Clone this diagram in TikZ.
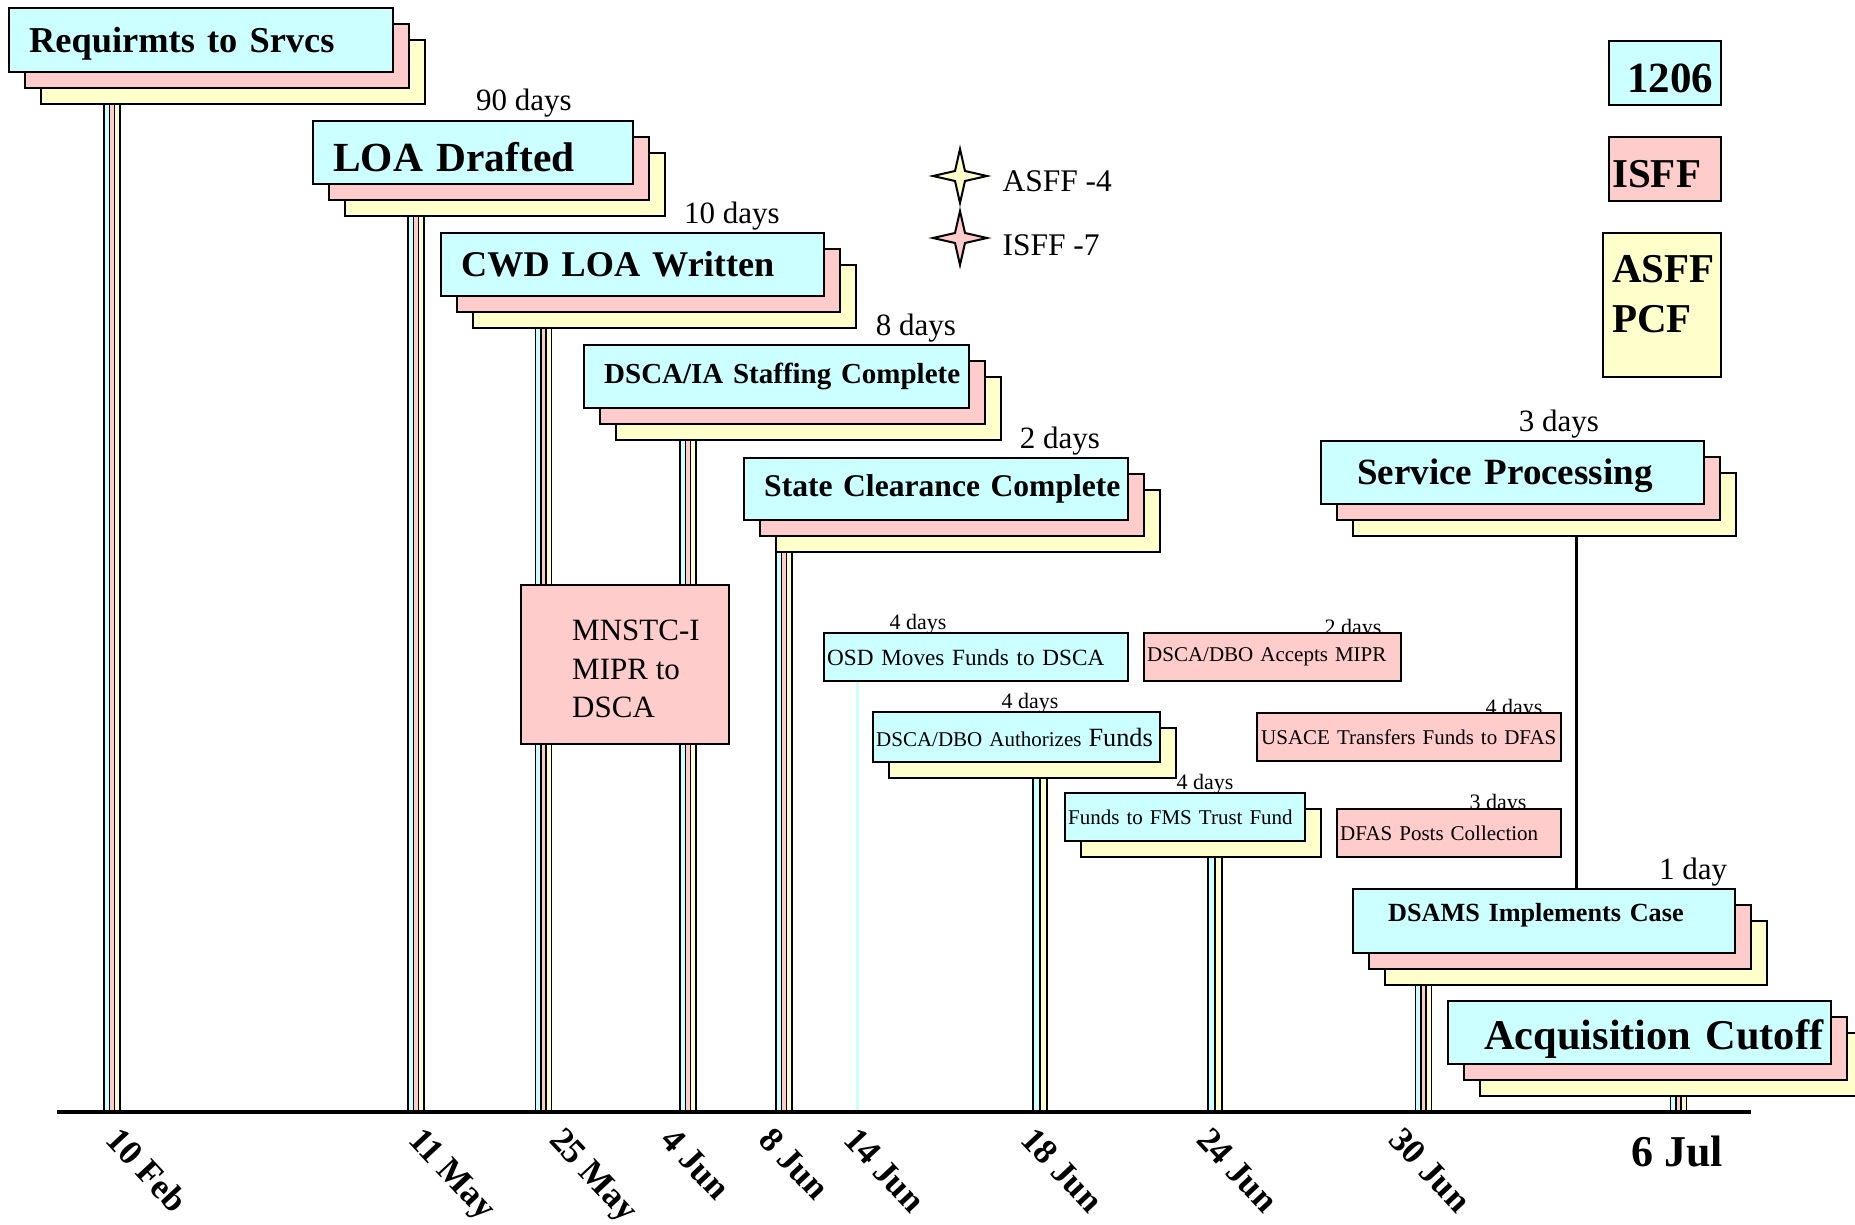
\documentclass[tikz,border=0pt]{standalone}
\usepackage{fontspec}
\setmainfont{Liberation Serif}
\definecolor{boxcyan}{HTML}{CCFFFF}
\definecolor{boxpink}{HTML}{FFCCCC}
\definecolor{boxyellow}{HTML}{FFFFCC}

% three-colour stem and two-colour stem
\newcommand{\tristem}[2]{%
  \draw[line width=17.4] (#1) -- (#2);
  \draw[line width=3.8, boxcyan, transform canvas={xshift=-5.3pt}] (#1) -- (#2);
  \draw[line width=3.8, boxpink] (#1) -- (#2);
  \draw[line width=3.8, boxyellow, transform canvas={xshift=5.3pt}] (#1) -- (#2);}
\newcommand{\duostem}[2]{%
  \draw[line width=15.5] (#1) -- (#2);
  \draw[line width=5.5, boxcyan, transform canvas={xshift=-3.5pt}] (#1) -- (#2);
  \draw[line width=5.5, boxyellow, transform canvas={xshift=3.5pt}] (#1) -- (#2);}
% stacked boxes: name, x, y, width, height, pad, font size, text, raise
\newcommand{\tlstack}[9]{%
  \pgfmathsetmacro{\stackw}{#4-2*#6}%
  \node[tlbox, fill=boxyellow, minimum width=#4, minimum height=#5] (#1-y) at (#2+32,#3+32) {};
  \node[tlbox, fill=boxpink, minimum width=#4, minimum height=#5] (#1-p) at (#2+16,#3+16) {};
  \node[tlbox, fill=boxcyan, minimum width=#4, minimum height=#5, inner xsep=#6,
        text width=\stackw pt, font=\fontsize{#7}{#7}\selectfont\bfseries] (#1) at (#2,#3)
        {\mbox{\raisebox{#9pt}[\height][\depth]{#8}}};}
% cyan box over yellow box: name, x, y, width, height, text
\newcommand{\duostack}[6]{%
  \pgfmathsetmacro{\stackw}{#4-6}%
  \node[tlbox, fill=boxyellow, minimum width=#4, minimum height=#5] (#1-y) at (#2+16,#3+16) {};
  \node[tlbox, fill=boxcyan, smalltxt, minimum width=#4, minimum height=#5, inner xsep=3,
        text width=\stackw pt] (#1) at (#2,#3) {\mbox{#6}};}

\begin{document}
\begin{tikzpicture}[x=1pt,y=-1pt,
    tlbox/.style={draw=black, line width=2.4, anchor=north west, inner ysep=2, align=left},
    bigdays/.style={font=\fontsize{31}{31}\selectfont, anchor=base},
    smalldays/.style={font=\fontsize{22}{22}\selectfont, anchor=base},
    smalltxt/.style={font=\fontsize{21}{22}\selectfont},
    datelbl/.style={font=\fontsize{35}{35}\selectfont\bfseries, rotate=-47, anchor=north west, inner sep=0}]

\fill[white] (0,0) rectangle (1855,1225);
\useasboundingbox (0,0) rectangle (1855,1225);

% tick points on the time axis
\coordinate (t10feb) at (112,1112);
\coordinate (t11may) at (416,1112);
\coordinate (t25may) at (543.5,1112);
\coordinate (t4jun) at (688,1112);
\coordinate (t8jun) at (784,1112);
\coordinate (t14jun) at (857,1112);
\coordinate (t18jun) at (1040,1112);
\coordinate (t24jun) at (1215,1112);
\coordinate (t30jun) at (1423.5,1112);
\coordinate (t6jul) at (1678.5,1112);
\coordinate (axisL) at (57,1112);
\coordinate (axisR) at (1751,1112);
\coordinate (svcdrop) at (1576,0);

% durations
\node[bigdays] (d90) at (524,111) {90 days};
\node[bigdays] (d10) at (732,223) {10 days};
\node[bigdays] (d8) at (916,335) {8 days};
\node[bigdays] (d2) at (1060,448) {2 days};
\node[bigdays] (d3) at (1559,431) {3 days};
\node[bigdays] (d1) at (1693,879) {1 day};
\node[smalldays] (dosd) at (918,629) {4 days};
\node[smalldays] (dacc) at (1353,634.5) {2 days};
\node[smalldays] (dauth) at (1030,708) {4 days};
\node[smalldays] (dfms) at (1205,789) {4 days};
\node[smalldays] (dusace) at (1514,714.5) {4 days};
\node[smalldays] (ddfas) at (1498,809.5) {3 days};

% main steps
\tlstack{req}{8}{7}{384}{64}{20}{36.4}{Requirmts to Srvcs}{-4}
\tlstack{loa}{312}{120}{320}{63}{20}{41.4}{LOA Drafted}{-4}
\tlstack{cwd}{440}{232}{383}{63}{20}{36.2}{CWD LOA Written}{0}
\tlstack{dsca}{583}{344}{385}{63}{20}{29}{DSCA/IA Staffing Complete}{0}
\tlstack{state}{743}{457}{384}{62}{20}{31.6}{State Clearance Complete}{0}
\tlstack{svc}{1320}{440}{383}{63}{36}{37}{Service Processing}{-3.5}
\tlstack{dsams}{1352}{888}{382}{64}{35}{26.2}{DSAMS Implements Case}{6}
\tlstack{acq}{1447}{1000}{383}{63}{36}{42.4}{Acquisition Cutoff}{-6}

% funding steps
\node[tlbox, fill=boxcyan, font=\fontsize{23.2}{24}\selectfont, minimum width=304, minimum height=48, inner xsep=3, text width=298pt] (osd) at (823,632) {\mbox{OSD Moves Funds to DSCA}};
\node[tlbox, fill=boxpink, smalltxt, minimum width=257, minimum height=48, inner xsep=3, text width=251pt] (accepts) at (1143,632) {\mbox{DSCA/DBO Accepts MIPR}};
\duostack{auth}{872}{711}{287}{50}{DSCA/DBO Authorizes {\fontsize{26.3}{27}\selectfont Funds}}
\duostack{fms}{1064}{792}{240}{48}{Funds to FMS Trust Fund}
\node[tlbox, fill=boxpink, smalltxt, minimum width=304, minimum height=48, inner xsep=4, text width=296pt] (usace) at (1256,712) {\mbox{USACE Transfers Funds to DFAS}};
\node[tlbox, fill=boxpink, smalltxt, minimum width=224, minimum height=48, inner xsep=3, text width=218pt] (dfas) at (1336,808) {\mbox{DFAS Posts Collection}};

% stems down to the axis
\tristem{req-y.south -| t10feb}{t10feb}
\tristem{loa-y.south -| t11may}{t11may}
\tristem{cwd-y.south -| t25may}{t25may}
\tristem{dsca-y.south -| t4jun}{t4jun}
\tristem{state-y.south -| t8jun}{t8jun}
\draw[line width=3, boxcyan] (osd.south -| t14jun) -- (t14jun);
\duostem{auth-y.south -| t18jun}{t18jun}
\duostem{fms-y.south -| t24jun}{t24jun}
\tristem{dsams-y.south -| t30jun}{t30jun}
\tristem{acq-y.south -| t6jul}{t6jul}
\draw[line width=3] (svc-y.south -| svcdrop) -- (dsams.north -| svcdrop);

% MIPR box
\node[tlbox, fill=boxpink, minimum width=208, minimum height=159] (mipr) at (520,584) {};
\node[anchor=north west, inner sep=0, align=left, font=\fontsize{31}{38.5}\selectfont] (miprtxt) at (572,620) {MNSTC-I\\MIPR to\\DSCA};

% time axis
\draw[line width=3.5] (axisL) -- (axisR);
\node[datelbl] (l10feb) at (122,1125) {10 Feb};
\node[datelbl] (l11may) at (424,1125) {11 May};
\node[datelbl] (l25may) at (565,1125) {25 May};
\node[datelbl] (l4jun) at (676,1125) {4 Jun};
\node[datelbl] (l8jun) at (775,1125) {8 Jun};
\node[datelbl] (l14jun) at (859,1125) {14 Jun};
\node[datelbl] (l18jun) at (1037,1125) {18 Jun};
\node[datelbl] (l24jun) at (1212,1125) {24 Jun};
\node[datelbl] (l30jun) at (1405,1125) {30 Jun};
\node[font=\fontsize{44}{44}\selectfont\bfseries] (l6jul) at (1677,1151) {6 Jul};

% star key
\draw[line width=2, fill=boxyellow] (960,149) -- (965,171) -- (987,176) -- (965,181) -- (960,203) -- (955,181) -- (933,176) -- (955,171) -- cycle;
\draw[line width=2, fill=boxpink] (960,211) -- (965,233) -- (987,238) -- (965,243) -- (960,265) -- (955,243) -- (933,238) -- (955,233) -- cycle;
\node[anchor=west, font=\fontsize{31.5}{32}\selectfont] (asffkey) at (999,181) {ASFF -4};
\node[anchor=west, font=\fontsize{31.5}{32}\selectfont] (isffkey) at (999,245) {ISFF -7};

% colour key
\node[tlbox, fill=boxcyan, minimum width=112, minimum height=64, inner xsep=8, text width=96pt, align=right, font=\fontsize{43}{43}\selectfont\bfseries] (k1206) at (1608,40) {\raisebox{-5pt}[\height][\depth]{1206}};
\node[tlbox, fill=boxpink, minimum width=112, minimum height=64, inner xsep=3, text width=106pt, font=\fontsize{41}{41}\selectfont\bfseries] (kisff) at (1608,136) {\raisebox{-5pt}[\height][\depth]{ISFF}};
\node[tlbox, fill=boxyellow, minimum width=118, minimum height=144] (kasff) at (1602,232) {};
\node[anchor=north west, inner sep=0, align=left, font=\fontsize{41}{50}\selectfont\bfseries] (kasfftxt) at (1612,255) {ASFF\\PCF};
\end{tikzpicture}
\end{document}
